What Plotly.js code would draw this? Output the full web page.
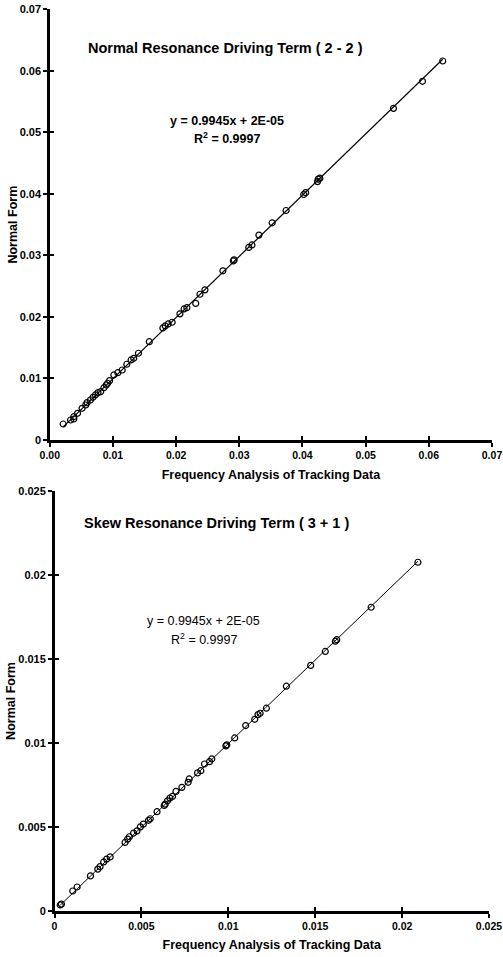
<!DOCTYPE html>
<html>
<head>
<meta charset="utf-8">
<script src="https://cdn.plot.ly/plotly-3.0.1.min.js"></script>
<style>html,body{margin:0;padding:0;background:#fff;}#chart{width:503px;height:957px;}</style>
</head>
<body>
<div id="chart"></div>
<script>
// ---- Data: Normal Resonance Driving Term (2 - 2) ----
const normalX = [0.00212,0.00329,0.0038,0.0038,0.00439,0.00511,0.00569,0.0059,0.00643,0.00684,0.00722,0.00763,0.00805,0.00857,0.00894,0.00915,0.00947,0.01014,0.01077,0.01146,0.01219,0.01287,0.01329,0.01403,0.01575,0.0179,0.01827,0.01874,0.01937,0.0206,0.02126,0.0217,0.0231,0.02377,0.02456,0.0274,0.02905,0.02917,0.0315,0.0320,0.0331,0.0352,0.0374,0.0402,0.0405,0.04238,0.0425,0.04275,0.0544,0.0590,0.0622];
const normalY = [0.0026,0.00325,0.00341,0.00379,0.00434,0.00515,0.00569,0.00607,0.0065,0.00694,0.00732,0.0077,0.00785,0.0085,0.00894,0.00922,0.00965,0.01057,0.01094,0.01138,0.01231,0.01301,0.01328,0.0141,0.01598,0.01821,0.01854,0.01886,0.01914,0.0205,0.0213,0.0215,0.0222,0.02369,0.0244,0.0275,0.0291,0.02927,0.0313,0.0317,0.0333,0.0353,0.0373,0.0399,0.0402,0.0420,0.0424,0.04255,0.0539,0.0583,0.0616];
const normalXTicks = [0,0.01,0.02,0.03,0.04,0.05,0.06,0.07];
const normalXLabels = ["0.00","0.01","0.02","0.03","0.04","0.05","0.06","0.07"];
const normalYTicks = [0,0.01,0.02,0.03,0.04,0.05,0.06,0.07];
const normalYLabels = ["0","0.01","0.02","0.03","0.04","0.05","0.06","0.07"];

// ---- Data: Skew Resonance Driving Term (3 + 1) ----
const skewX = [0.00033,0.0004,0.00105,0.0013,0.00207,0.00249,0.00262,0.00283,0.003,0.0032,0.00406,0.00421,0.00431,0.00455,0.00475,0.00494,0.00511,0.00541,0.00551,0.0059,0.00631,0.00637,0.0065,0.00664,0.00679,0.00699,0.00733,0.00769,0.00775,0.00823,0.00842,0.00863,0.00892,0.00905,0.00986,0.00991,0.01037,0.011,0.01152,0.01171,0.01183,0.01219,0.01334,0.01474,0.01558,0.01616,0.01624,0.01822,0.02091];
const skewY = [0.00036,0.00041,0.00119,0.00143,0.00209,0.00249,0.00264,0.00292,0.00309,0.00322,0.00408,0.00428,0.00442,0.00464,0.00477,0.00501,0.00517,0.0054,0.00549,0.00591,0.00628,0.00636,0.00656,0.00672,0.00682,0.00712,0.00736,0.00766,0.00786,0.00822,0.00835,0.00875,0.00889,0.00905,0.00983,0.00989,0.0103,0.01104,0.01141,0.01169,0.01177,0.01207,0.01338,0.01462,0.01545,0.01606,0.01615,0.01808,0.02076];
const skewXTicks = [0,0.005,0.01,0.015,0.02,0.025];
const skewXLabels = ["0","0.005","0.01","0.015","0.02","0.025"];
const skewYTicks = [0,0.005,0.01,0.015,0.02,0.025];
const skewYLabels = ["0","0.005","0.01","0.015","0.02","0.025"];

// ---- Linear fit (from the chart's trendline equation) ----
const fitSlope = [0.9945, 0.9945];
const fitIntercept = [0.00002, 0.00002];
const fitEquations = ["y = 0.9945x + 2E-05", "y = 0.9945x + 2E-05"];
const fitR2 = ["R<sup>2</sup> = 0.9997", "R<sup>2</sup> = 0.9997"];
const chartTitles = ["Normal Resonance Driving Term ( 2 - 2 )", "Skew Resonance Driving Term ( 3 + 1 )"];
const xTitle = "Frequency Analysis of Tracking Data";
const yTitle = "Normal Form";

const FONT = "Liberation Sans, Arial, Helvetica, sans-serif";
const W = 503, H = 957;

function fitLine(xs, i) {
  const lo = Math.min(...xs), hi = Math.max(...xs);
  return { x: [lo, hi], y: [fitSlope[i]*lo + fitIntercept[i], fitSlope[i]*hi + fitIntercept[i]] };
}
const f1 = fitLine(normalX, 0), f2 = fitLine(skewX, 1);

const marker = { symbol: 'circle-open', size: 6, color: '#000', line: { width: 1.2, color: '#000' } };

const traces = [
  { x: f1.x, y: f1.y, mode: 'lines', line: { color: '#000', width: 1.2 }, xaxis: 'x', yaxis: 'y', hoverinfo: 'skip' },
  { x: normalX, y: normalY, mode: 'markers', marker: marker, xaxis: 'x', yaxis: 'y' },
  { x: f2.x, y: f2.y, mode: 'lines', line: { color: '#000', width: 1 }, xaxis: 'x2', yaxis: 'y2', hoverinfo: 'skip' },
  { x: skewX, y: skewY, mode: 'markers', marker: marker, xaxis: 'x2', yaxis: 'y2' },
  // invisible traces to hold the inner-tick overlay axes
  { x: [0], y: [0], mode: 'markers', marker: { opacity: 0 }, xaxis: 'x3', yaxis: 'y3', hoverinfo: 'skip' },
  { x: [0], y: [0], mode: 'markers', marker: { opacity: 0 }, xaxis: 'x4', yaxis: 'y4', hoverinfo: 'skip' }
];

// pixel-derived domains
const d1x = [49.8/W, 492/W], d1y = [1-440/H, 1-9.3/H];
const d2x = [54.5/W, 489/W], d2y = [1-911/H, 1-491/H];

const tickFontX = { family: FONT, size: 10.5, weight: 'bold', color: '#000' };
const tickFontY = { family: FONT, size: 11, weight: 'bold', color: '#000' };
const axTitleFont = { family: FONT, size: 12.5, weight: 'bold', color: '#000' };

function mainAxis(domain, range, vals, labels, anchor, tf, title, standoff) {
  return {
    domain: domain, range: range, anchor: anchor, showgrid: false, zeroline: false,
    showline: true, linecolor: '#000', linewidth: 2.5,
    ticks: 'outside', ticklen: 4, tickwidth: 2, tickcolor: '#000',
    tickmode: 'array', tickvals: vals, ticktext: labels, tickfont: tf,
    ticklabeloverflow: 'allow',
    title: { text: title, font: axTitleFont, standoff: standoff },
    fixedrange: true
  };
}
function overlayAxis(domain, range, vals, anchor, over) {
  return {
    domain: domain, range: range, anchor: anchor, overlaying: over, showgrid: false, zeroline: false,
    showline: false, ticks: 'inside', ticklen: 4, tickwidth: 2, tickcolor: '#000',
    tickmode: 'array', tickvals: vals, showticklabels: false, fixedrange: true
  };
}

const layout = {
  width: W, height: H,
  margin: { l: 0, r: 0, t: 0, b: 0, autoexpand: false },
  paper_bgcolor: '#fff', plot_bgcolor: 'rgba(0,0,0,0)',
  showlegend: false,
  font: { family: FONT, color: '#000' },
  xaxis: mainAxis(d1x, [0, 0.07], normalXTicks, normalXLabels, 'y', tickFontX, xTitle, 10),
  yaxis: mainAxis(d1y, [0, 0.07], normalYTicks, normalYLabels, 'x', tickFontY, yTitle, 0),
  xaxis2: mainAxis(d2x, [0, 0.025], skewXTicks, skewXLabels, 'y2', tickFontX, xTitle, 9),
  yaxis2: mainAxis(d2y, [0, 0.025], skewYTicks, skewYLabels, 'x2', tickFontY, yTitle, 0),
  xaxis3: overlayAxis(d1x, [0, 0.07], normalXTicks, 'y', 'x'),
  yaxis3: overlayAxis(d1y, [0, 0.07], normalYTicks, 'x', 'y'),
  xaxis4: overlayAxis(d2x, [0, 0.025], skewXTicks, 'y2', 'x2'),
  yaxis4: overlayAxis(d2y, [0, 0.025], skewYTicks, 'x2', 'y2'),
  annotations: [
    { text: chartTitles[0], xref: 'paper', yref: 'paper', x: 225/W, y: 1-48/H, xanchor: 'center', yanchor: 'middle', showarrow: false, font: { family: FONT, size: 14.5, weight: 'bold', color: '#000' } },
    { text: fitEquations[0], xref: 'paper', yref: 'paper', x: 226.7/W, y: 1-120.7/H, xanchor: 'center', yanchor: 'middle', showarrow: false, font: { family: FONT, size: 12.5, weight: 'bold', color: '#000' } },
    { text: fitR2[0], xref: 'paper', yref: 'paper', x: 227/W, y: 1-138.3/H, xanchor: 'center', yanchor: 'middle', showarrow: false, font: { family: FONT, size: 12.5, weight: 'bold', color: '#000' } },
    { text: chartTitles[1], xref: 'paper', yref: 'paper', x: 216.3/W, y: 1-523.3/H, xanchor: 'center', yanchor: 'middle', showarrow: false, font: { family: FONT, size: 14.5, weight: 'bold', color: '#000' } },
    { text: fitEquations[1], xref: 'paper', yref: 'paper', x: 203.8/W, y: 1-621/H, xanchor: 'center', yanchor: 'middle', showarrow: false, font: { family: FONT, size: 12.5, color: '#000' } },
    { text: fitR2[1], xref: 'paper', yref: 'paper', x: 203.5/W, y: 1-639.3/H, xanchor: 'center', yanchor: 'middle', showarrow: false, font: { family: FONT, size: 12.5, color: '#000' } }
  ]
};

Plotly.newPlot('chart', traces, layout, { staticPlot: true, displayModeBar: false });
</script>
</body>
</html>
